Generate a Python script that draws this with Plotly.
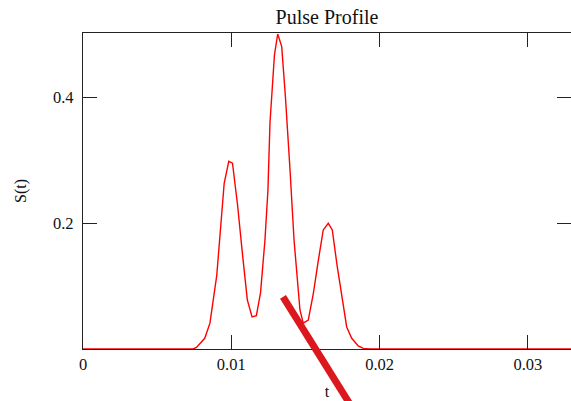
import plotly.graph_objects as go

t_vals = [0.0, 0.00742, 0.00765, 0.00821, 0.00856, 0.00902, 0.00952, 0.00983, 0.01008,
          0.01042, 0.01076, 0.01108, 0.0114, 0.01169, 0.01197, 0.01227, 0.01247, 0.01261,
          0.01291, 0.01313, 0.0134, 0.01365, 0.01396, 0.01423, 0.01463, 0.01485, 0.01519,
          0.01553, 0.01585, 0.0162, 0.01654, 0.01681, 0.01713, 0.01747, 0.01778, 0.01812,
          0.01856, 0.0189, 0.01935, 0.033]
s_vals = [0.0, 0.0, 0.0024, 0.017, 0.041, 0.117, 0.263, 0.298, 0.295,
          0.229, 0.149, 0.078, 0.051, 0.053, 0.089, 0.173, 0.252, 0.36,
          0.467, 0.5, 0.48, 0.4, 0.284, 0.173, 0.062, 0.041, 0.046,
          0.088, 0.138, 0.189, 0.1995, 0.189, 0.133, 0.078, 0.035, 0.017,
          0.0048, 0.001, 0.0, 0.0]

x_ticks = [0, 0.01, 0.02, 0.03]
x_tick_text = ["0", "0.01", "0.02", "0.03"]
y_ticks = [0.2, 0.4]
y_tick_text = ["0.2", "0.4"]

FONT = "Times New Roman, Liberation Serif, DejaVu Serif, serif"

fig = go.Figure()
fig.add_trace(go.Scatter(x=t_vals, y=s_vals, mode="lines",
                         line=dict(color="#ff0000", width=1.4), showlegend=False,
                         hoverinfo="skip"))

# thick red stroke (annotation) crossing the axis
fig.add_shape(type="line", xref="paper", yref="paper",
              x0=0.4098, y0=0.165, x1=0.5574, y1=-0.20,
              line=dict(color="#dc171d", width=7), layer="above")

fig.update_layout(
    width=571, height=401,
    margin=dict(l=83, r=0, t=33, b=52),
    paper_bgcolor="white", plot_bgcolor="white",
    font=dict(family=FONT, size=16, color="#111"),
    title=dict(text="Pulse Profile", x=(83 + 571) / 2 / 571, xanchor="center",
               y=1 - 17 / 401, yanchor="middle", yref="container",
               font=dict(family=FONT, size=20, color="#111")),
    xaxis=dict(range=[0, 488 / 14830], tickvals=x_ticks, ticktext=x_tick_text,
               ticks="inside", ticklen=14, tickwidth=1.2, tickcolor="#222",
               showline=True, linecolor="#222", linewidth=1.2, mirror="allticks",
               showgrid=False, zeroline=False, layer="above traces",
               title=dict(text="t", standoff=12, font=dict(family=FONT, size=16)),
               tickfont=dict(family=FONT, size=16.5)),
    yaxis=dict(range=[0, 316 / 630], tickvals=y_ticks, ticktext=y_tick_text,
               ticks="inside", ticklen=14, tickwidth=1.2, tickcolor="#222",
               showline=True, linecolor="#222", linewidth=1.2, mirror="ticks",
               showgrid=False, zeroline=False, ticklabelstandoff=5,
               title=dict(text="S(t)", standoff=22, font=dict(family=FONT, size=16)),
               tickfont=dict(family=FONT, size=16.5)),
)

fig.write_html("out.html")
